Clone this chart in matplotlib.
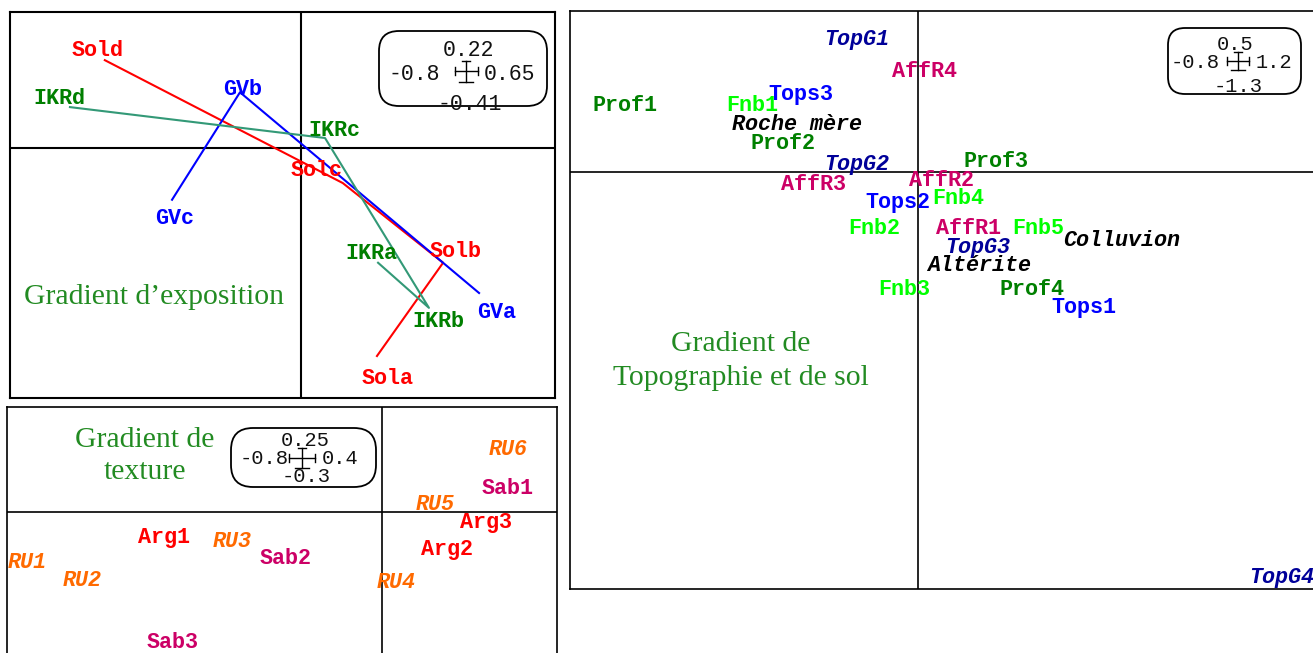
import matplotlib
matplotlib.use("Agg")
import matplotlib.pyplot as plt
from matplotlib.patches import FancyBboxPatch
from matplotlib.lines import Line2D
from matplotlib.transforms import Affine2D

W, H = 1313, 653

# --- exposition gradient (top left) ---
sol_names = ["Sola", "Solb", "Solc", "Sold"]
sol_x = [0.210, 0.392, 0.116, -0.539]
sol_y = [-0.337, -0.186, -0.057, 0.142]
gv_names = ["GVa", "GVb", "GVc"]
gv_x = [0.491, -0.167, -0.354]
gv_y = [-0.235, 0.090, -0.084]
ikr_names = ["IKRa", "IKRb", "IKRc", "IKRd"]
ikr_x = [0.213, 0.353, 0.067, -0.635]
ikr_y = [-0.186, -0.259, 0.016, 0.066]
expo_scale = ["0.22", "-0.8", "0.65", "-0.41"]

# --- texture gradient (bottom left) ---
ru_names = ["RU1", "RU2", "RU3", "RU4", "RU5", "RU6"]
ru_x = [-0.757, -0.640, -0.320, 0.030, 0.113, 0.269]
ru_y = [-0.121, -0.164, -0.071, -0.167, 0.017, 0.148]
arg_names = ["Arg1", "Arg2", "Arg3"]
arg_x = [-0.465, 0.139, 0.222]
arg_y = [-0.062, -0.090, -0.026]
sab_names = ["Sab1", "Sab2", "Sab3"]
sab_x = [0.267, -0.205, -0.446]
sab_y = [0.055, -0.110, -0.310]
text_scale = ["0.25", "-0.8", "0.4", "-0.3"]

# --- topography / soil gradient (right) ---
prof_names = ["Prof1", "Prof2", "Prof3", "Prof4"]
prof_x = [-0.674, -0.310, 0.179, 0.262]
prof_y = [0.205, 0.090, 0.034, -0.366]
fnb_names = ["Fnb1", "Fnb2", "Fnb3", "Fnb4", "Fnb5"]
fnb_x = [-0.382, -0.101, -0.032, 0.092, 0.276]
fnb_y = [0.205, -0.177, -0.366, -0.081, -0.177]
tops_names = ["Tops1", "Tops2", "Tops3"]
tops_x = [0.382, -0.046, -0.269]
tops_y = [-0.422, -0.096, 0.242]
topg_names = ["TopG1", "TopG2", "TopG3", "TopG4"]
topg_x = [-0.140, -0.140, 0.138, 0.837]
topg_y = [0.413, 0.022, -0.233, -1.258]
affr_names = ["AffR1", "AffR2", "AffR3", "AffR4"]
affr_x = [0.115, 0.053, -0.241, 0.016]
affr_y = [-0.177, -0.025, -0.040, 0.311]
subst_names = ["Roche mère", "Colluvion", "Altérite"]
subst_x = [-0.278, 0.469, 0.140]
subst_y = [0.146, -0.214, -0.289]
topo_scale = ["0.5", "-0.8", "1.2", "-1.3"]

# label offsets (pixels) for the arrow panel
sol_off = [(11, -22), (12, 11), (-26, 13), (-7, 10)]
gv_off = [(18, -19), (3, 3), (3, -19)]
ikr_off = [(-7, 9), (9, -14), (9, 7), (-11, 9)]

MONO = "Liberation Mono"
SERIF = "Liberation Serif"
LFS = 15.7
GREEN_TXT = "#228B22"

fig = plt.figure(figsize=(W / 100, H / 100), dpi=100)
fig.patch.set_facecolor("white")
# image pixel coords, y downward
T = Affine2D().scale(1 / W, -1 / H).translate(0, 1) + fig.transFigure


def panel(left, top, right, bottom, lw):
    ax = fig.add_axes([left / W, 1 - bottom / H, (right - left) / W, (bottom - top) / H])
    ax.set_xticks([])
    ax.set_yticks([])
    for s in ax.spines.values():
        s.set_linewidth(lw)
        s.set_color("black")
    ax.axhline(0, color="black", lw=lw, zorder=1)
    ax.axvline(0, color="black", lw=lw, zorder=1)
    return ax


def labels(ax, names, xs, ys, color, italic=False):
    for n, x, y in zip(names, xs, ys):
        ax.text(x, y, n, color=color, family=MONO, weight="bold",
                style="italic" if italic else "normal", fontsize=LFS,
                ha="center", va="center", zorder=3)


def scale_box(rect, radius, vals, pos, cross, fs):
    x0, y0, x1, y1 = rect
    box = FancyBboxPatch((x0, y0), x1 - x0, y1 - y0,
                         boxstyle="round,pad=0,rounding_size=%d" % radius,
                         transform=T, fc="white", ec="black", lw=1.3)
    fig.add_artist(box)
    has = ["center", "left", "left", "center"]
    for v, (x, y), ha in zip(vals, pos, has):
        t = fig.text(x, y, v, transform=T, ha=ha, va="center",
                     family=MONO, fontsize=fs, color="#111111")
        t.set_clip_path(box)
    cx, cy, cw, ch = cross
    segs = [([cx - cw / 2, cx + cw / 2], [cy, cy]),
            ([cx, cx], [cy - ch / 2, cy + ch / 2]),
            ([cx - cw / 2] * 2, [cy - 4, cy + 4]),
            ([cx + cw / 2] * 2, [cy - 4, cy + 4]),
            ([cx - 4, cx + 4], [cy - ch / 2] * 2),
            ([cx - 7, cx + 7], [cy + ch / 2] * 2)]
    for xs, ys in segs:
        fig.add_artist(Line2D(xs, ys, transform=T, color="black", lw=1.0))


# top left panel
ax1 = panel(10, 12, 555, 398, 1.5)
ax1.set_xlim(-0.8, 0.70)
ax1.set_ylim(-0.405, 0.22)
ax1.plot(sol_x, sol_y, color="#FF0000", lw=1.5, zorder=2)
ax1.plot(gv_x, gv_y, color="#0000FF", lw=1.5, zorder=2)
ax1.plot(ikr_x, ikr_y, color="#339977", lw=1.5, zorder=2)
for names, xs, ys, offs, col in [(sol_names, sol_x, sol_y, sol_off, "#FF0000"),
                                  (gv_names, gv_x, gv_y, gv_off, "#0000FF"),
                                  (ikr_names, ikr_x, ikr_y, ikr_off, "#007F00")]:
    for n, x, y, o in zip(names, xs, ys, offs):
        ax1.annotate(n, (x, y), xytext=o, textcoords="offset pixels",
                     color=col, family=MONO, weight="bold", fontsize=LFS,
                     ha="center", va="center", zorder=3)
fig.text(154, 297, "Gradient d’exposition", transform=T, ha="center", va="center",
         family=SERIF, fontsize=21.3, color=GREEN_TXT)
scale_box((379, 31, 547, 106), 20, expo_scale,
          [(468, 50), (389, 75), (484, 75), (470, 104)], (466, 71, 23, 21), 15.5)

# bottom left panel
ax2 = panel(7, 407, 557, 663, 1.2)
ax2.set_xlim(-0.8, 0.373)
ax2.set_ylim(-0.36, 0.25)
labels(ax2, ru_names, ru_x, ru_y, "#FF6A00", italic=True)
labels(ax2, arg_names, arg_x, arg_y, "#FF0000")
labels(ax2, sab_names, sab_x, sab_y, "#CC0066")
fig.text(145, 456, "Gradient de\ntexture", transform=T, ha="center", va="center",
         family=SERIF, fontsize=21.3, color=GREEN_TXT, linespacing=1.33)
scale_box((231, 428, 376, 487), 22, text_scale,
          [(305, 440), (240, 459), (322, 459), (306, 477)], (302, 458, 26, 20), 14.7)

# right panel
ax3 = panel(570, 11, 1440, 589, 1.2)
ax3.set_xlim(-0.8, 1.2)
ax3.set_ylim(-1.295, 0.5)
labels(ax3, prof_names, prof_x, prof_y, "#008000")
labels(ax3, fnb_names, fnb_x, fnb_y, "#00FF00")
labels(ax3, tops_names, tops_x, tops_y, "#0000FF")
labels(ax3, topg_names, topg_x, topg_y, "#000099", italic=True)
labels(ax3, affr_names, affr_x, affr_y, "#CC0066")
labels(ax3, subst_names, subst_x, subst_y, "#000000", italic=True)
fig.text(741, 361, "Gradient de\nTopographie et de sol", transform=T, ha="center",
         va="center", family=SERIF, fontsize=21.3, color=GREEN_TXT, linespacing=1.37)
scale_box((1168, 28, 1301, 94), 17, topo_scale,
          [(1235, 44), (1171, 63), (1256, 63), (1238, 87)], (1238, 61, 22, 18), 14.7)

fig.savefig("out.png", dpi=100)
